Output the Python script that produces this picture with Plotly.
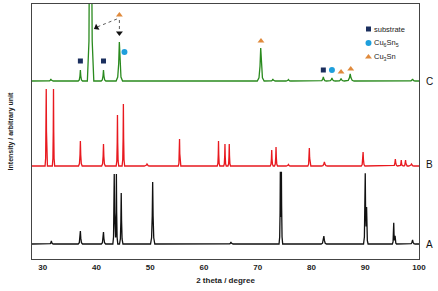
import numpy as np
import plotly.graph_objects as go

# ---------------- data ----------------
x_range = [28, 100]
x_ticks = [30, 40, 50, 60, 70, 80, 90, 100]

# pattern A (black): baseline, peak positions, heights, widths
a_base = 15
a_pos = [31.6, 37.0, 41.3, 43.3, 43.7, 44.6, 50.45, 65.0, 74.2, 74.4, 82.3, 90.0, 90.25, 95.3, 95.55, 98.8]
a_h   = [3, 13, 12, 70, 70, 51, 62, 2, 70, 70, 8, 70, 34, 21, 8, 4]
a_w   = [0.2, 0.2, 0.2, 0.13, 0.13, 0.16, 0.2, 0.2, 0.12, 0.12, 0.25, 0.16, 0.14, 0.13, 0.14, 0.25]

# pattern B (red)
b_base = 93
b_pos = [30.65, 32.0, 37.0, 41.3, 43.9, 45.0, 49.4, 55.45, 62.7, 63.9, 64.7, 72.6, 73.4, 75.7, 79.6, 82.4, 89.6, 95.6, 96.7, 97.5, 98.6]
b_h   = [77, 77, 25, 22, 51, 62, 2, 27, 25, 22, 22, 16, 19, 1.5, 18, 4, 14, 7, 6, 6, 2]
b_w   = [0.11, 0.11, 0.17, 0.17, 0.12, 0.12, 0.25, 0.12, 0.12, 0.12, 0.12, 0.14, 0.14, 0.2, 0.14, 0.28, 0.17, 0.2, 0.15, 0.15, 0.25]

# pattern C (green)
c_base = 178
c_pos = [31.5, 37.0, 38.9, 41.3, 44.25, 70.55, 72.8, 75.7, 82.2, 83.8, 85.5, 87.2, 98.8]
c_h   = [2, 11, 400, 11, 39, 33, 2, 1.5, 4, 3, 2.5, 7, 2]
c_w   = [0.22, 0.2, 0.3, 0.22, 0.3, 0.32, 0.22, 0.22, 0.28, 0.3, 0.3, 0.36, 0.28]

# phase markers above pattern C
sub_x, sub_y = [37.0, 41.3, 82.2], [198, 198, 189]
cu65_x, cu65_y = [45.2, 83.8], [207, 189]
cu3_x, cu3_y = [44.26, 70.6, 85.5, 87.3], [244, 218, 187, 190]

labels = ["A", "B", "C"]
label_y = [15, 95, 178]

# ---------------- helpers ----------------
SHAPE_DX = [-2.0, -1.0, -0.4, 0.0, 0.4, 1.0, 2.0]
SHAPE_FR = [0.0, 0.1, 0.45, 1.0, 0.45, 0.1, 0.0]

def profile(base, pos, h, w):
    keys = [x_range[0], x_range[1]]
    for p, ww in zip(pos, w):
        keys += [p + d * ww for d in SHAPE_DX]
    xs = np.unique(np.array(keys))
    ys = np.full_like(xs, float(base))
    for p, hh, ww in zip(pos, h, w):
        kx = [p + d * ww for d in SHAPE_DX]
        ky = [f * hh for f in SHAPE_FR]
        ys += np.interp(xs, kx, ky, left=0, right=0)
    return xs, ys

fig = go.Figure()
for base, pos, h, w, col in [(a_base, a_pos, a_h, a_w, "#111111"),
                             (b_base, b_pos, b_h, b_w, "#e8191f"),
                             (c_base, c_pos, c_h, c_w, "#2a8a1e")]:
    xs, ys = profile(base, pos, h, w)
    fig.add_trace(go.Scatter(x=xs, y=ys, mode="lines", line=dict(color=col, width=1.3),
                             showlegend=False, hoverinfo="skip"))

NAVY, BLUE, ORANGE = "#1b2f5e", "#1e9fdc", "#e08a3c"
fig.add_trace(go.Scatter(x=sub_x, y=sub_y, mode="markers",
                         marker=dict(symbol="square", size=5, color=NAVY), showlegend=False))
fig.add_trace(go.Scatter(x=cu65_x, y=cu65_y, mode="markers",
                         marker=dict(symbol="circle", size=6, color=BLUE), showlegend=False))
fig.add_trace(go.Scatter(x=cu3_x, y=cu3_y, mode="markers",
                         marker=dict(symbol="triangle-up", size=6, color=ORANGE), showlegend=False))

# dashed arrows from the Cu3Sn marker
fig.add_trace(go.Scatter(x=[43.8, 40.1], y=[240, 232], mode="lines",
                         line=dict(color="#333", width=0.8, dash="dot"), showlegend=False))
fig.add_trace(go.Scatter(x=[44.26, 44.26], y=[239, 228], mode="lines",
                         line=dict(color="#333", width=0.8, dash="dot"), showlegend=False))
fig.add_trace(go.Scatter(x=[40.0, 44.26], y=[231.5, 226], mode="markers",
                         marker=dict(symbol="triangle-up", size=6, color="#111", angle=[240, 180]),
                         showlegend=False))

# legend (manual)
leg_x = 90.6
leg_y = [230, 216, 202]
fig.add_trace(go.Scatter(x=[leg_x], y=[leg_y[0]], mode="markers",
                         marker=dict(symbol="square", size=5, color=NAVY), showlegend=False))
fig.add_trace(go.Scatter(x=[leg_x], y=[leg_y[1]], mode="markers",
                         marker=dict(symbol="circle", size=6, color=BLUE), showlegend=False))
fig.add_trace(go.Scatter(x=[leg_x], y=[leg_y[2]], mode="markers",
                         marker=dict(symbol="triangle-up", size=6, color=ORANGE), showlegend=False))
for t, yy in zip(["substrate", "Cu<sub>6</sub>Sn<sub>5</sub>", "Cu<sub>3</sub>Sn"], leg_y):
    fig.add_annotation(x=leg_x + 0.7, y=yy, text=t, showarrow=False, xanchor="left",
                       font=dict(size=7.5, color="#222", family="Liberation Sans"))

for lab, yy in zip(labels, label_y):
    fig.add_annotation(x=1.013, xref="paper", y=yy, text=lab, showarrow=False, xanchor="left",
                       font=dict(size=10, color="#111", family="Liberation Sans"))

fig.update_layout(
    width=438, height=291,
    margin=dict(l=32, r=19, t=4, b=32),
    plot_bgcolor="white", paper_bgcolor="white",
    font=dict(family="Liberation Sans", color="#222"),
)
fig.update_xaxes(range=x_range, tickvals=x_ticks,
                 ticktext=[f"<b>{v}</b>" for v in x_ticks],
                 tickfont=dict(size=8), showgrid=False, zeroline=False,
                 showline=True, linecolor="#444", linewidth=1, mirror=True,
                 title=dict(text="<b>2 theta / degree</b>", font=dict(size=8), standoff=6))
fig.update_yaxes(range=[0, 255], showticklabels=False, showgrid=False, zeroline=False,
                 showline=True, linecolor="#444", linewidth=1, mirror=True, ticks="",
                 title=dict(text="<b>Intensity / arbitrary unit</b>", font=dict(size=7), standoff=16))

fig.write_html("out.html")
